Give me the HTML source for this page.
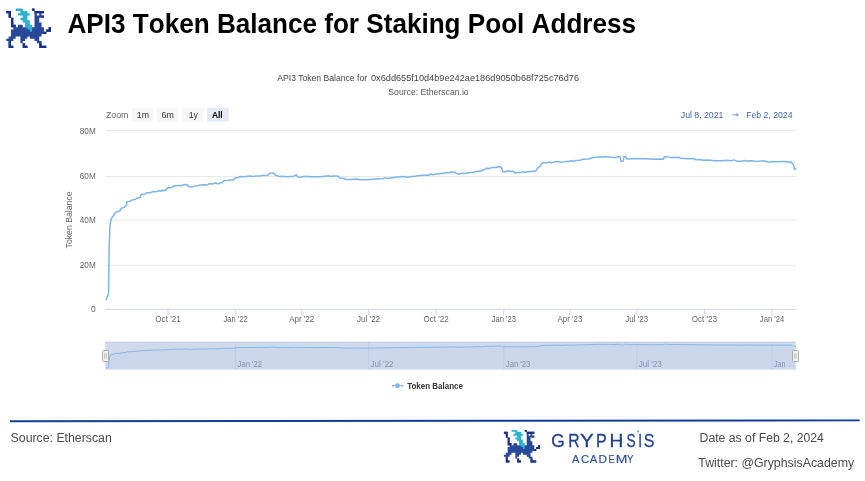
<!DOCTYPE html>
<html><head><meta charset="utf-8"><title>API3 Token Balance</title>
<style>
html,body{margin:0;padding:0;background:#fff;}
body{width:865px;height:481px;overflow:hidden;position:relative;font-family:"Liberation Sans",sans-serif;}
svg{position:absolute;left:0;top:0;will-change:transform;}
text{font-family:"Liberation Sans",sans-serif;}
.ax{font-size:8.5px;fill:#666;}
.nav{font-size:8.5px;fill:#8890a6;}
.sub{font-size:8.7px;fill:#444;}
.zm{font-size:8.8px;fill:#555;}
.ft{font-size:12.3px;fill:#4a4a4a;}
</style></head><body>
<svg width="865" height="481" viewBox="0 0 865 481">
<defs><g id="gry"><path d="M32.16 8.60H34.51V10.92H32.16ZM6.25 10.92H10.96V13.24H6.25ZM34.51 10.92H43.93V13.24H34.51ZM8.61 13.24H10.96V15.55H8.61ZM34.51 13.24H36.86V15.55H34.51ZM39.22 13.24H41.58V15.55H39.22ZM8.61 15.55H10.96V17.87H8.61ZM34.51 15.55H43.93V17.87H34.51ZM10.96 17.87H13.31V20.19H10.96ZM34.51 17.87H39.22V20.19H34.51ZM10.96 20.19H13.31V22.51H10.96ZM34.51 20.19H39.22V22.51H34.51ZM10.96 22.51H13.31V24.83H10.96ZM34.51 22.51H41.58V24.83H34.51ZM10.96 24.83H15.67V27.14H10.96ZM18.02 24.83H22.73V27.14H18.02ZM34.51 24.83H41.58V27.14H34.51ZM13.31 27.14H43.93V29.46H13.31ZM48.64 27.14H50.99V29.46H48.64ZM10.96 29.46H43.93V31.78H10.96ZM46.28 29.46H50.99V31.78H46.28ZM10.96 31.78H46.28V34.10H10.96ZM10.96 34.10H41.58V36.42H10.96ZM8.61 36.42H15.67V38.73H8.61ZM20.38 36.42H27.45V38.73H20.38ZM29.80 36.42H39.22V38.73H29.80ZM6.25 38.73H13.31V41.05H6.25ZM20.38 38.73H25.09V41.05H20.38ZM34.51 38.73H39.22V41.05H34.51ZM8.61 41.05H10.96V43.37H8.61ZM20.38 41.05H22.73V43.37H20.38ZM36.86 41.05H41.58V43.37H36.86ZM8.61 43.37H10.96V45.69H8.61ZM22.73 43.37H25.09V45.69H22.73ZM39.22 43.37H41.58V45.69H39.22ZM8.61 45.69H13.31V48.01H8.61ZM22.73 45.69H27.45V48.01H22.73ZM39.22 45.69H46.28V48.01H39.22Z" fill="#27489b"/><path d="M32.16 8.60H34.51V10.92H32.16ZM6.25 10.92H10.96V13.24H6.25ZM34.51 10.92H43.93V13.24H34.51ZM8.61 13.24H10.96V15.55H8.61ZM8.61 15.55H10.96V17.87H8.61ZM41.58 15.55H43.93V17.87H41.58ZM10.96 17.87H13.31V20.19H10.96ZM10.96 20.19H13.31V22.51H10.96ZM10.96 22.51H13.31V24.83H10.96ZM10.96 24.83H15.67V27.14H10.96ZM48.64 27.14H50.99V29.46H48.64ZM46.28 29.46H50.99V31.78H46.28ZM43.93 31.78H46.28V34.10H43.93ZM8.61 41.05H10.96V43.37H8.61ZM8.61 43.37H10.96V45.69H8.61ZM22.73 43.37H25.09V45.69H22.73ZM39.22 43.37H41.58V45.69H39.22ZM8.61 45.69H13.31V48.01H8.61ZM22.73 45.69H27.45V48.01H22.73ZM39.22 45.69H46.28V48.01H39.22Z" fill="#1a2f8c"/><path d="M15.67 8.60H22.73V10.92H15.67ZM20.38 10.92H27.45V13.24H20.38ZM18.02 13.24H29.80V15.55H18.02ZM22.73 15.55H27.45V17.87H22.73ZM20.38 17.87H27.45V20.19H20.38ZM22.73 20.19H29.80V22.51H22.73ZM25.09 22.51H29.80V24.83H25.09ZM25.09 24.83H32.16V27.14H25.09ZM27.45 27.14H32.16V29.46H27.45ZM29.80 29.46H32.16V31.78H29.80Z" fill="#2bb3d1"/></g></defs>
<use href="#gry"/>
<text transform="translate(67.5,32.6) scale(0.9457,1)" font-size="27.6" font-weight="bold" fill="#000" style="font-kerning:none">API3 Token Balance for Staking Pool Address</text>
<text x="277.3" y="81.3" class="sub" textLength="89.8" lengthAdjust="spacingAndGlyphs">API3 Token Balance for</text>
<text x="371.0" y="81.3" class="sub" textLength="208" lengthAdjust="spacingAndGlyphs">0x6dd655f10d4b9e242ae186d9050b68f725c76d76</text>
<text x="428.5" y="94.6" text-anchor="middle" class="sub" style="fill:#555" textLength="80.3" lengthAdjust="spacingAndGlyphs">Source: Etherscan.io</text>
<!-- zoom buttons -->
<text x="105.9" y="118.3" class="zm" style="fill:#666">Zoom</text>
<rect x="132" y="107.7" width="21.1" height="14" rx="1.5" fill="#f7f7f7"/>
<rect x="156.7" y="107.7" width="21.3" height="14" rx="1.5" fill="#f7f7f7"/>
<rect x="182" y="107.7" width="21.5" height="14" rx="1.5" fill="#f7f7f7"/>
<rect x="206.9" y="107.7" width="21.9" height="14" rx="1.5" fill="#e6ebf5"/>
<text x="142.9" y="118.3" text-anchor="middle" class="zm" style="fill:#333">1m</text>
<text x="167.7" y="118.3" text-anchor="middle" class="zm" style="fill:#333">6m</text>
<text x="193.3" y="118.3" text-anchor="middle" class="zm" style="fill:#333">1y</text>
<text x="217.3" y="118.3" text-anchor="middle" class="zm" style="fill:#000;font-weight:bold" textLength="10.8" lengthAdjust="spacingAndGlyphs">All</text>
<text x="680.8" y="117.7" class="zm" style="fill:#3f64b0" textLength="42.6" lengthAdjust="spacingAndGlyphs">Jul 8, 2021</text>
<path d="M732.4 114.8H738.2M736.4 113.3L738.3 114.8L736.4 116.3" fill="none" stroke="#5a78b8" stroke-width="0.8"/>
<text x="746.2" y="117.7" class="zm" style="fill:#3f64b0" textLength="46.3" lengthAdjust="spacingAndGlyphs">Feb 2, 2024</text>
<!-- grid -->
<line x1="105.5" y1="130.7" x2="795.8" y2="130.7" stroke="#e6e6e6" stroke-width="1"/><line x1="105.5" y1="176.4" x2="795.8" y2="176.4" stroke="#e6e6e6" stroke-width="1"/><line x1="105.5" y1="220.0" x2="795.8" y2="220.0" stroke="#e6e6e6" stroke-width="1"/><line x1="105.5" y1="265.3" x2="795.8" y2="265.3" stroke="#e6e6e6" stroke-width="1"/>
<line x1="105.5" y1="309.4" x2="796" y2="309.4" stroke="#ccd6eb" stroke-width="1"/>
<text x="95.7" y="133.85" text-anchor="end" class="ax" textLength="15.9" lengthAdjust="spacingAndGlyphs">80M</text><text x="95.7" y="178.55" text-anchor="end" class="ax" textLength="15.9" lengthAdjust="spacingAndGlyphs">60M</text><text x="95.7" y="223.15" text-anchor="end" class="ax" textLength="15.9" lengthAdjust="spacingAndGlyphs">40M</text><text x="95.7" y="267.75" text-anchor="end" class="ax" textLength="15.9" lengthAdjust="spacingAndGlyphs">20M</text><text x="95.7" y="312.05" text-anchor="end" class="ax" >0</text>
<text transform="translate(71.6,219.9) rotate(-90)" text-anchor="middle" class="ax" textLength="57" lengthAdjust="spacingAndGlyphs">Token Balance</text>
<line x1="168.0" y1="309.5" x2="168.0" y2="315.3" stroke="#ccd6eb" stroke-width="1"/><text x="168.0" y="322.2" text-anchor="middle" class="ax" textLength="25.3" lengthAdjust="spacingAndGlyphs">Oct '21</text><line x1="235.6" y1="309.5" x2="235.6" y2="315.3" stroke="#ccd6eb" stroke-width="1"/><text x="235.6" y="322.2" text-anchor="middle" class="ax" textLength="24.3" lengthAdjust="spacingAndGlyphs">Jan '22</text><line x1="301.7" y1="309.5" x2="301.7" y2="315.3" stroke="#ccd6eb" stroke-width="1"/><text x="301.7" y="322.2" text-anchor="middle" class="ax" textLength="25.0" lengthAdjust="spacingAndGlyphs">Apr '22</text><line x1="368.6" y1="309.5" x2="368.6" y2="315.3" stroke="#ccd6eb" stroke-width="1"/><text x="368.6" y="322.2" text-anchor="middle" class="ax" textLength="23.0" lengthAdjust="spacingAndGlyphs">Jul '22</text><line x1="436.2" y1="309.5" x2="436.2" y2="315.3" stroke="#ccd6eb" stroke-width="1"/><text x="436.2" y="322.2" text-anchor="middle" class="ax" textLength="25.3" lengthAdjust="spacingAndGlyphs">Oct '22</text><line x1="503.8" y1="309.5" x2="503.8" y2="315.3" stroke="#ccd6eb" stroke-width="1"/><text x="503.8" y="322.2" text-anchor="middle" class="ax" textLength="24.3" lengthAdjust="spacingAndGlyphs">Jan '23</text><line x1="569.9" y1="309.5" x2="569.9" y2="315.3" stroke="#ccd6eb" stroke-width="1"/><text x="569.9" y="322.2" text-anchor="middle" class="ax" textLength="25.0" lengthAdjust="spacingAndGlyphs">Apr '23</text><line x1="636.8" y1="309.5" x2="636.8" y2="315.3" stroke="#ccd6eb" stroke-width="1"/><text x="636.8" y="322.2" text-anchor="middle" class="ax" textLength="23.0" lengthAdjust="spacingAndGlyphs">Jul '23</text><line x1="704.4" y1="309.5" x2="704.4" y2="315.3" stroke="#ccd6eb" stroke-width="1"/><text x="704.4" y="322.2" text-anchor="middle" class="ax" textLength="25.3" lengthAdjust="spacingAndGlyphs">Oct '23</text><line x1="772.0" y1="309.5" x2="772.0" y2="315.3" stroke="#ccd6eb" stroke-width="1"/><text x="772.0" y="322.2" text-anchor="middle" class="ax" textLength="24.3" lengthAdjust="spacingAndGlyphs">Jan '24</text>
<path d="M106.2 299.7 L107.2 296.8 L108.5 294.3 L108.8 270.0 L109.3 244.7 L110.0 225.0 L111.5 218.0 L113.4 216.1 L114.6 213.6 L116.5 211.8 L119.6 211.1 L121.2 208.4 L124.0 207.4 L126.4 205.1 L127.1 201.5 L130.2 201.2 L132.1 199.9 L135.2 199.5 L137.0 198.0 L140.2 197.4 L141.4 194.3 L145.1 194.1 L147.0 192.7 L150.8 192.7 L152.6 191.7 L156.4 191.7 L158.2 190.7 L160.7 191.2 L162.6 190.3 L165.7 190.4 L167.6 187.8 L172.0 187.4 L173.8 185.9 L177.6 185.6 L181.9 185.6 L183.8 184.6 L187.3 184.7 L188.8 186.8 L191.3 187.1 L193.8 186.2 L196.9 185.9 L199.4 185.2 L203.7 184.7 L206.9 184.9 L209.4 183.7 L212.5 184.0 L215.0 183.0 L218.1 183.7 L220.6 182.7 L222.2 182.7 L223.7 180.8 L227.4 180.5 L229.9 179.9 L233.7 179.9 L235.5 177.7 L238.0 177.7 L239.9 176.6 L243.6 176.8 L249.9 175.9 L253.6 176.4 L256.1 175.9 L259.9 175.9 L262.3 175.6 L267.9 175.3 L269.8 173.3 L274.2 173.3 L275.4 175.3 L279.8 176.6 L282.3 176.2 L287.3 176.8 L292.3 176.6 L294.8 175.6 L296.3 174.7 L297.5 176.8 L299.7 177.4 L303.5 176.4 L307.2 176.2 L309.7 176.8 L320.9 176.7 L328.4 175.8 L331.5 176.4 L333.4 175.9 L338.1 176.1 L339.6 178.1 L344.0 178.4 L345.6 179.6 L350.9 179.4 L357.7 179.1 L359.6 179.8 L365.8 179.7 L373.3 179.2 L383.3 178.4 L385.2 177.9 L387.0 178.4 L396.0 177.2 L399.7 176.8 L404.1 176.5 L407.8 177.2 L411.0 176.4 L414.7 176.2 L419.7 175.4 L424.7 175.2 L428.4 175.2 L430.9 174.0 L433.4 174.9 L435.9 174.0 L439.0 173.9 L440.9 173.2 L444.0 173.4 L445.9 172.8 L449.6 172.8 L451.5 172.0 L454.6 172.0 L456.1 173.4 L459.0 174.2 L460.8 173.3 L464.6 173.4 L467.7 172.7 L473.3 172.2 L477.0 171.2 L480.8 171.2 L482.7 169.9 L484.5 169.7 L486.4 168.3 L490.1 168.4 L492.0 167.4 L496.0 167.4 L497.9 166.8 L501.2 166.9 L502.9 171.8 L505.4 171.8 L507.8 170.8 L511.0 171.4 L513.2 171.2 L515.0 173.0 L517.8 172.4 L520.9 172.4 L522.8 171.8 L525.9 172.2 L528.4 171.5 L532.2 171.4 L535.9 170.9 L537.8 167.7 L539.9 166.6 L541.5 163.7 L543.4 162.8 L547.1 162.8 L549.0 162.1 L550.9 162.8 L554.0 161.9 L558.3 161.6 L562.1 162.4 L564.6 161.6 L568.3 161.4 L570.8 160.8 L573.3 161.2 L575.8 160.6 L579.6 160.2 L583.3 159.3 L588.3 159.0 L592.0 157.8 L596.0 157.3 L600.4 156.7 L602.9 157.2 L606.0 156.4 L609.7 157.1 L616.0 157.7 L617.8 156.7 L620.1 156.7 L620.9 161.2 L623.1 161.2 L624.1 156.8 L625.3 156.4 L626.8 158.9 L629.7 159.1 L633.4 158.4 L645.9 158.8 L654.6 159.3 L658.3 158.9 L663.3 159.2 L664.6 156.7 L667.1 156.6 L670.8 157.6 L675.8 157.6 L677.7 157.2 L681.4 158.3 L688.3 158.7 L693.9 158.4 L696.0 159.8 L699.7 159.6 L703.5 160.3 L706.0 159.9 L711.0 160.2 L713.5 160.7 L722.2 160.8 L725.9 160.3 L731.5 160.8 L734.0 159.9 L736.5 161.2 L742.1 161.3 L744.0 160.4 L747.1 160.9 L750.9 160.7 L757.1 161.4 L764.0 160.8 L768.3 162.2 L772.1 161.5 L777.0 161.8 L780.8 161.4 L785.2 161.4 L788.9 162.2 L790.8 161.7 L792.6 163.7 L793.9 166.2 L794.5 169.3 L795.8 169.0" fill="none" stroke="#7cb5ec" stroke-width="1.5" stroke-linejoin="round" stroke-linecap="round"/>
<!-- navigator -->
<rect x="105.3" y="342" width="690.5" height="27.6" fill="#d1daed"/>
<rect x="105.3" y="341.7" width="690.5" height="0.7" fill="#b7c3de"/>
<line x1="235.6" y1="342" x2="235.6" y2="369.6" stroke="#c0cae0" stroke-width="0.8"/><text x="237.6" y="366.8" class="nav" textLength="24.5" lengthAdjust="spacingAndGlyphs">Jan '22</text><line x1="368.6" y1="342" x2="368.6" y2="369.6" stroke="#c0cae0" stroke-width="0.8"/><text x="370.6" y="366.8" class="nav" textLength="23" lengthAdjust="spacingAndGlyphs">Jul '22</text><line x1="503.8" y1="342" x2="503.8" y2="369.6" stroke="#c0cae0" stroke-width="0.8"/><text x="505.8" y="366.8" class="nav" textLength="24.5" lengthAdjust="spacingAndGlyphs">Jan '23</text><line x1="636.8" y1="342" x2="636.8" y2="369.6" stroke="#c0cae0" stroke-width="0.8"/><text x="638.8" y="366.8" class="nav" textLength="23" lengthAdjust="spacingAndGlyphs">Jul '23</text><line x1="772.0" y1="342" x2="772.0" y2="369.6" stroke="#c0cae0" stroke-width="0.8"/><text x="774.0" y="366.8" class="nav" textLength="11.5" lengthAdjust="spacingAndGlyphs">Jan</text>
<path d="M106.2 368.0 L107.2 367.5 L108.5 367.1 L108.8 363.1 L109.3 358.9 L110.0 355.6 L111.5 354.5 L113.4 354.2 L114.6 353.7 L116.5 353.4 L119.6 353.3 L121.2 352.9 L124.0 352.7 L126.4 352.3 L127.1 351.7 L130.2 351.7 L132.1 351.5 L135.2 351.4 L137.0 351.2 L140.2 351.1 L141.4 350.5 L145.1 350.5 L147.0 350.3 L150.8 350.3 L152.6 350.1 L156.4 350.1 L158.2 349.9 L160.7 350.0 L162.6 349.9 L165.7 349.9 L167.6 349.5 L172.0 349.4 L173.8 349.2 L177.6 349.1 L181.9 349.1 L183.8 348.9 L187.3 349.0 L188.8 349.3 L191.3 349.4 L193.8 349.2 L196.9 349.2 L199.4 349.0 L203.7 349.0 L206.9 349.0 L209.4 348.8 L212.5 348.8 L215.0 348.7 L218.1 348.8 L220.6 348.6 L222.2 348.6 L223.7 348.3 L227.4 348.3 L229.9 348.2 L233.7 348.2 L235.5 347.8 L238.0 347.8 L239.9 347.6 L243.6 347.6 L249.9 347.5 L253.6 347.6 L256.1 347.5 L259.9 347.5 L262.3 347.4 L267.9 347.4 L269.8 347.1 L274.2 347.1 L275.4 347.4 L279.8 347.6 L282.3 347.5 L287.3 347.6 L292.3 347.6 L294.8 347.4 L296.3 347.3 L297.5 347.6 L299.7 347.7 L303.5 347.6 L307.2 347.5 L309.7 347.6 L320.9 347.6 L328.4 347.5 L331.5 347.6 L333.4 347.5 L338.1 347.5 L339.6 347.9 L344.0 347.9 L345.6 348.1 L350.9 348.1 L357.7 348.0 L359.6 348.1 L365.8 348.1 L373.3 348.0 L383.3 347.9 L385.2 347.8 L387.0 347.9 L396.0 347.7 L399.7 347.6 L404.1 347.6 L407.8 347.7 L411.0 347.6 L414.7 347.5 L419.7 347.4 L424.7 347.4 L428.4 347.4 L430.9 347.2 L433.4 347.3 L435.9 347.2 L439.0 347.2 L440.9 347.1 L444.0 347.1 L445.9 347.0 L449.6 347.0 L451.5 346.9 L454.6 346.9 L456.1 347.1 L459.0 347.2 L460.8 347.1 L464.6 347.1 L467.7 347.0 L473.3 346.9 L477.0 346.7 L480.8 346.7 L482.7 346.5 L484.5 346.5 L486.4 346.2 L490.1 346.3 L492.0 346.1 L496.0 346.1 L497.9 346.0 L501.2 346.0 L502.9 346.8 L505.4 346.8 L507.8 346.7 L511.0 346.8 L513.2 346.7 L515.0 347.0 L517.8 346.9 L520.9 346.9 L522.8 346.8 L525.9 346.9 L528.4 346.8 L532.2 346.8 L535.9 346.7 L537.8 346.1 L539.9 346.0 L541.5 345.5 L543.4 345.3 L547.1 345.3 L549.0 345.2 L550.9 345.3 L554.0 345.2 L558.3 345.1 L562.1 345.3 L564.6 345.1 L568.3 345.1 L570.8 345.0 L573.3 345.1 L575.8 345.0 L579.6 344.9 L583.3 344.8 L588.3 344.7 L592.0 344.5 L596.0 344.4 L600.4 344.3 L602.9 344.4 L606.0 344.3 L609.7 344.4 L616.0 344.5 L617.8 344.3 L620.1 344.3 L620.9 345.1 L623.1 345.1 L624.1 344.3 L625.3 344.3 L626.8 344.7 L629.7 344.7 L633.4 344.6 L645.9 344.7 L654.6 344.8 L658.3 344.7 L663.3 344.7 L664.6 344.3 L667.1 344.3 L670.8 344.5 L675.8 344.5 L677.7 344.4 L681.4 344.6 L688.3 344.7 L693.9 344.6 L696.0 344.8 L699.7 344.8 L703.5 344.9 L706.0 344.9 L711.0 344.9 L713.5 345.0 L722.2 345.0 L725.9 344.9 L731.5 345.0 L734.0 344.9 L736.5 345.1 L742.1 345.1 L744.0 344.9 L747.1 345.0 L750.9 345.0 L757.1 345.1 L764.0 345.0 L768.3 345.2 L772.1 345.1 L777.0 345.2 L780.8 345.1 L785.2 345.1 L788.9 345.2 L790.8 345.1 L792.6 345.5 L793.9 345.9 L794.5 346.4 L795.8 346.4 L795.8 369.6 L105.3 369.6 Z" fill="#7cb5ec" fill-opacity="0.05" stroke="none"/>
<path d="M106.2 368.0 L107.2 367.5 L108.5 367.1 L108.8 363.1 L109.3 358.9 L110.0 355.6 L111.5 354.5 L113.4 354.2 L114.6 353.7 L116.5 353.4 L119.6 353.3 L121.2 352.9 L124.0 352.7 L126.4 352.3 L127.1 351.7 L130.2 351.7 L132.1 351.5 L135.2 351.4 L137.0 351.2 L140.2 351.1 L141.4 350.5 L145.1 350.5 L147.0 350.3 L150.8 350.3 L152.6 350.1 L156.4 350.1 L158.2 349.9 L160.7 350.0 L162.6 349.9 L165.7 349.9 L167.6 349.5 L172.0 349.4 L173.8 349.2 L177.6 349.1 L181.9 349.1 L183.8 348.9 L187.3 349.0 L188.8 349.3 L191.3 349.4 L193.8 349.2 L196.9 349.2 L199.4 349.0 L203.7 349.0 L206.9 349.0 L209.4 348.8 L212.5 348.8 L215.0 348.7 L218.1 348.8 L220.6 348.6 L222.2 348.6 L223.7 348.3 L227.4 348.3 L229.9 348.2 L233.7 348.2 L235.5 347.8 L238.0 347.8 L239.9 347.6 L243.6 347.6 L249.9 347.5 L253.6 347.6 L256.1 347.5 L259.9 347.5 L262.3 347.4 L267.9 347.4 L269.8 347.1 L274.2 347.1 L275.4 347.4 L279.8 347.6 L282.3 347.5 L287.3 347.6 L292.3 347.6 L294.8 347.4 L296.3 347.3 L297.5 347.6 L299.7 347.7 L303.5 347.6 L307.2 347.5 L309.7 347.6 L320.9 347.6 L328.4 347.5 L331.5 347.6 L333.4 347.5 L338.1 347.5 L339.6 347.9 L344.0 347.9 L345.6 348.1 L350.9 348.1 L357.7 348.0 L359.6 348.1 L365.8 348.1 L373.3 348.0 L383.3 347.9 L385.2 347.8 L387.0 347.9 L396.0 347.7 L399.7 347.6 L404.1 347.6 L407.8 347.7 L411.0 347.6 L414.7 347.5 L419.7 347.4 L424.7 347.4 L428.4 347.4 L430.9 347.2 L433.4 347.3 L435.9 347.2 L439.0 347.2 L440.9 347.1 L444.0 347.1 L445.9 347.0 L449.6 347.0 L451.5 346.9 L454.6 346.9 L456.1 347.1 L459.0 347.2 L460.8 347.1 L464.6 347.1 L467.7 347.0 L473.3 346.9 L477.0 346.7 L480.8 346.7 L482.7 346.5 L484.5 346.5 L486.4 346.2 L490.1 346.3 L492.0 346.1 L496.0 346.1 L497.9 346.0 L501.2 346.0 L502.9 346.8 L505.4 346.8 L507.8 346.7 L511.0 346.8 L513.2 346.7 L515.0 347.0 L517.8 346.9 L520.9 346.9 L522.8 346.8 L525.9 346.9 L528.4 346.8 L532.2 346.8 L535.9 346.7 L537.8 346.1 L539.9 346.0 L541.5 345.5 L543.4 345.3 L547.1 345.3 L549.0 345.2 L550.9 345.3 L554.0 345.2 L558.3 345.1 L562.1 345.3 L564.6 345.1 L568.3 345.1 L570.8 345.0 L573.3 345.1 L575.8 345.0 L579.6 344.9 L583.3 344.8 L588.3 344.7 L592.0 344.5 L596.0 344.4 L600.4 344.3 L602.9 344.4 L606.0 344.3 L609.7 344.4 L616.0 344.5 L617.8 344.3 L620.1 344.3 L620.9 345.1 L623.1 345.1 L624.1 344.3 L625.3 344.3 L626.8 344.7 L629.7 344.7 L633.4 344.6 L645.9 344.7 L654.6 344.8 L658.3 344.7 L663.3 344.7 L664.6 344.3 L667.1 344.3 L670.8 344.5 L675.8 344.5 L677.7 344.4 L681.4 344.6 L688.3 344.7 L693.9 344.6 L696.0 344.8 L699.7 344.8 L703.5 344.9 L706.0 344.9 L711.0 344.9 L713.5 345.0 L722.2 345.0 L725.9 344.9 L731.5 345.0 L734.0 344.9 L736.5 345.1 L742.1 345.1 L744.0 344.9 L747.1 345.0 L750.9 345.0 L757.1 345.1 L764.0 345.0 L768.3 345.2 L772.1 345.1 L777.0 345.2 L780.8 345.1 L785.2 345.1 L788.9 345.2 L790.8 345.1 L792.6 345.5 L793.9 345.9 L794.5 346.4 L795.8 346.4" fill="none" stroke="#7cb5ec" stroke-width="1" stroke-linejoin="round" opacity="0.95"/>
<text x="788.6" y="366.8" class="nav" style="fill:#aab2c6" textLength="6" lengthAdjust="spacing">..</text>
<rect x="102.5" y="350.5" width="6" height="11" rx="1" fill="#f2f2f2" stroke="#999" stroke-width="0.8"/><line x1="104.7" y1="353.5" x2="104.7" y2="358.5" stroke="#999" stroke-width="0.6"/><line x1="106.3" y1="353.5" x2="106.3" y2="358.5" stroke="#999" stroke-width="0.6"/><rect x="792.5" y="350.5" width="6" height="11" rx="1" fill="#f2f2f2" stroke="#999" stroke-width="0.8"/><line x1="794.7" y1="353.5" x2="794.7" y2="358.5" stroke="#999" stroke-width="0.6"/><line x1="796.3" y1="353.5" x2="796.3" y2="358.5" stroke="#999" stroke-width="0.6"/>
<!-- legend -->
<path d="M392.1 385.75H394.7M400.3 385.75H403.1" stroke="#7cb5ec" stroke-width="1.4"/>
<circle cx="397.5" cy="385.75" r="2.4" fill="#7cb5ec"/>
<text x="407.2" y="388.5" font-size="8.5" font-weight="bold" fill="#333" textLength="55.8" lengthAdjust="spacingAndGlyphs">Token Balance</text>
<!-- footer -->
<path d="M10.1 420.3L859.7 419.5V421.3L10.1 422.15Z" fill="#113d96"/>
<text x="10.6" y="442.3" class="ft">Source: Etherscan</text>
<text x="699.6" y="442.4" class="ft" textLength="124.3" lengthAdjust="spacingAndGlyphs">Date as of Feb 2, 2024</text>
<text x="698.3" y="467.3" class="ft" textLength="155.8" lengthAdjust="spacingAndGlyphs">Twitter: @GryphsisAcademy</text>
<g transform="translate(498.86,422.8) scale(0.807,0.825)"><use href="#gry"/></g>
<text transform="translate(551.23,446.5) scale(0.921,1)" font-size="18.9" fill="#1f3f93" stroke="#1f3f93" stroke-width="0.3">G</text><text transform="translate(568.24,446.5) scale(0.834,1)" font-size="18.9" fill="#1f3f93" stroke="#1f3f93" stroke-width="0.3">R</text><text transform="translate(580.08,446.5) scale(1.092,1)" font-size="18.9" fill="#1f3f93" stroke="#1f3f93" stroke-width="0.3">Y</text><text transform="translate(595.91,446.5) scale(0.851,1)" font-size="18.9" fill="#1f3f93" stroke="#1f3f93" stroke-width="0.3">P</text><text transform="translate(609.57,446.5) scale(1.011,1)" font-size="18.9" fill="#1f3f93" stroke="#1f3f93" stroke-width="0.3">H</text><text transform="translate(626.48,446.5) scale(0.727,1)" font-size="18.9" fill="#1f3f93" stroke="#1f3f93" stroke-width="0.3">S</text><text transform="translate(638.27,446.5) scale(0.724,1)" font-size="18.9" fill="#1f3f93" stroke="#1f3f93" stroke-width="0.3">I</text><text transform="translate(643.67,446.5) scale(0.856,1)" font-size="18.9" fill="#1f3f93" stroke="#1f3f93" stroke-width="0.3">S</text>
<rect x="637.1" y="430.6" width="1.7" height="1.8" fill="#2bb3d1"/>
<text transform="translate(572.09,462.5) scale(0.967,1)" font-size="11.6" fill="#2b4c9f" stroke="#2b4c9f" stroke-width="0.15">A</text><text transform="translate(580.89,462.5) scale(0.972,1)" font-size="11.6" fill="#2b4c9f" stroke="#2b4c9f" stroke-width="0.15">C</text><text transform="translate(589.79,462.5) scale(0.967,1)" font-size="11.6" fill="#2b4c9f" stroke="#2b4c9f" stroke-width="0.15">A</text><text transform="translate(598.61,462.5) scale(1.014,1)" font-size="11.6" fill="#2b4c9f" stroke="#2b4c9f" stroke-width="0.15">D</text><text transform="translate(608.52,462.5) scale(0.791,1)" font-size="11.6" fill="#2b4c9f" stroke="#2b4c9f" stroke-width="0.15">E</text><text transform="translate(615.73,462.5) scale(1.209,1)" font-size="11.6" fill="#2b4c9f" stroke="#2b4c9f" stroke-width="0.15">M</text><text transform="translate(627.01,462.5) scale(0.834,1)" font-size="11.6" fill="#2b4c9f" stroke="#2b4c9f" stroke-width="0.15">Y</text>
</svg>
</body></html>
